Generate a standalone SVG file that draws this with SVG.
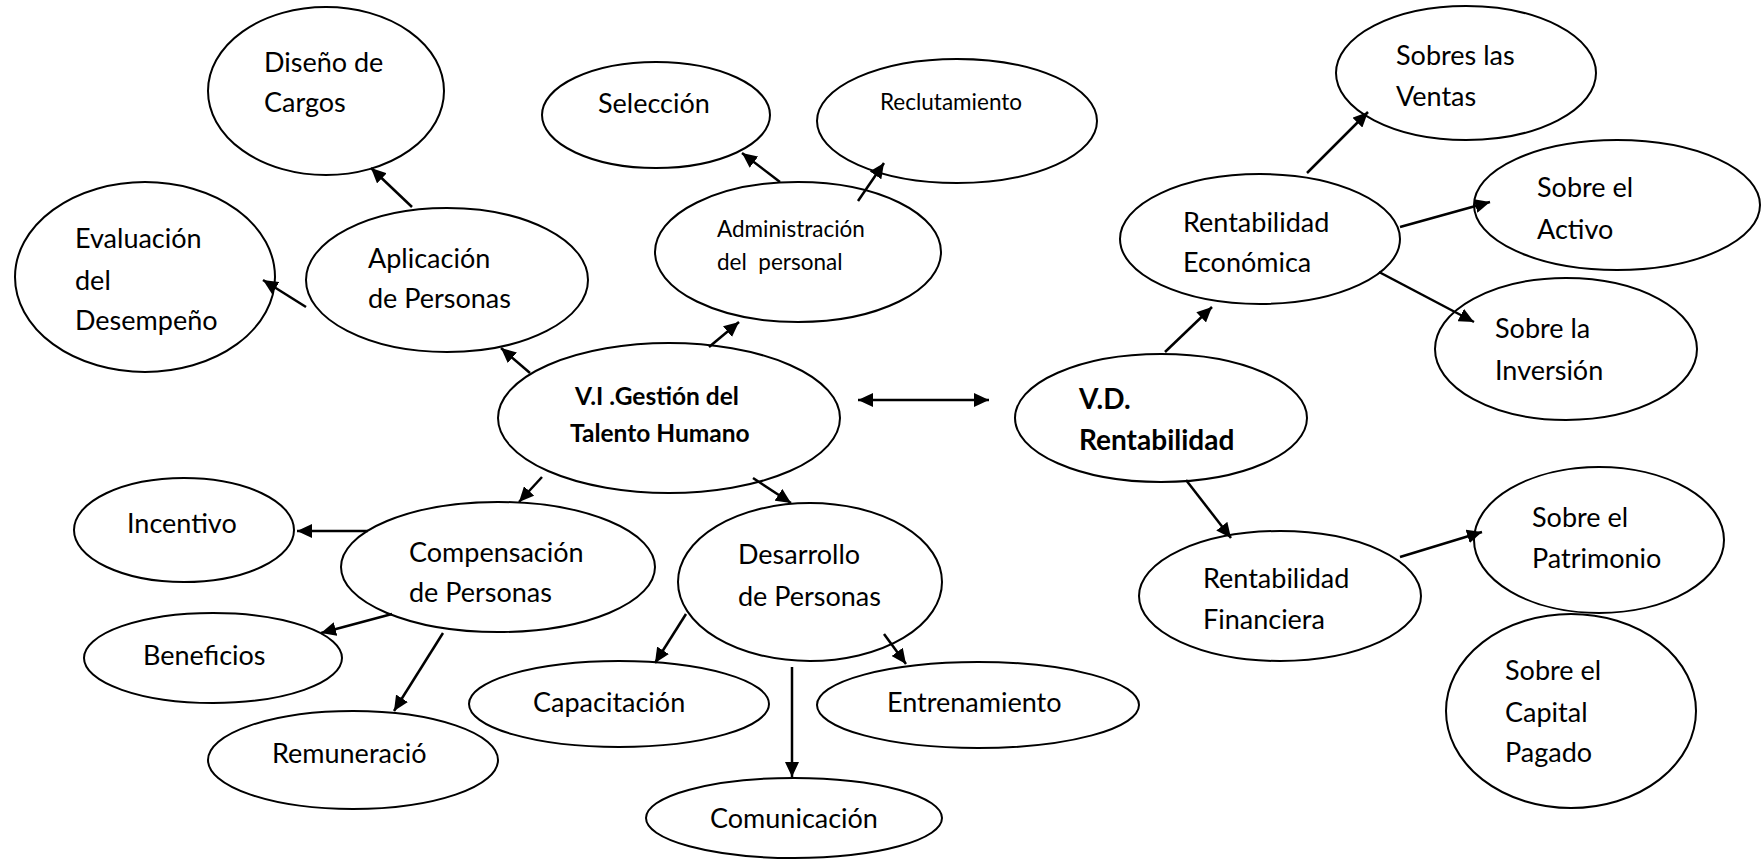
<svg xmlns="http://www.w3.org/2000/svg" width="1762" height="860" viewBox="0 0 1762 860">
<style>
.n ellipse{fill:#fff;stroke:#000;stroke-width:2}
text{font-family:Lato,"Open Sans","Liberation Sans",sans-serif;font-size:27px;fill:#000}
.s{font-size:22.5px}
.b{font-weight:bold;font-size:24.5px}
.bb{font-weight:bold;font-size:28px}
#connectors line{stroke:#000;stroke-width:2.5;marker-end:url(#ah)}
</style>
<defs>
<marker id="ah" markerWidth="16" markerHeight="14" refX="15" refY="7" orient="auto-start-reverse" markerUnits="userSpaceOnUse"><path d="M0,0 L15,7 L0,14 z" fill="#000"/></marker>
</defs>
<rect width="1762" height="860" fill="#fff"/>
<g id="diseno" class="n"><ellipse cx="326" cy="91" rx="118" ry="84"/><text x="264" y="72">Diseño de</text><text x="264" y="112">Cargos</text></g>
<g id="evaluacion" class="n"><ellipse cx="145" cy="277" rx="130" ry="95"/><text x="75" y="248">Evaluación</text><text x="75" y="290">del</text><text x="75" y="330">Desempeño</text></g>
<g id="aplicacion" class="n"><ellipse cx="447" cy="280" rx="141" ry="72"/><text x="368" y="268">Aplicación</text><text x="368" y="308">de Personas</text></g>
<g id="seleccion" class="n"><ellipse cx="656" cy="115" rx="114" ry="53"/><text x="598" y="113">Selección</text></g>
<g id="reclutamiento" class="n"><ellipse cx="957" cy="121" rx="140" ry="62"/><text class="s" x="880" y="110">Reclutamiento</text></g>
<g id="administracion" class="n"><ellipse cx="798" cy="252" rx="143" ry="70"/><text class="s" x="717" y="237">Administración</text><text class="s" x="717" y="270" xml:space="preserve">del  personal</text></g>
<g id="vi" class="n"><ellipse cx="669" cy="418" rx="171" ry="75"/><text class="b" x="575" y="405">V.I .Gestión del</text><text class="b" x="570" y="442">Talento Humano</text></g>
<g id="vd" class="n"><ellipse cx="1161" cy="418" rx="146" ry="64"/><text class="bb" x="1079" y="409">V.D.</text><text class="bb" x="1079" y="450">Rentabilidad</text></g>
<g id="rent_econ" class="n"><ellipse cx="1260" cy="239" rx="140" ry="65"/><text x="1183" y="232">Rentabilidad</text><text x="1183" y="272">Económica</text></g>
<g id="ventas" class="n"><ellipse cx="1466" cy="73" rx="130" ry="67"/><text x="1396" y="65">Sobres las</text><text x="1396" y="106">Ventas</text></g>
<g id="activo" class="n"><ellipse cx="1617" cy="205" rx="143" ry="65"/><text x="1537" y="197">Sobre el</text><text x="1537" y="239">Activo</text></g>
<g id="inversion" class="n"><ellipse cx="1566" cy="349" rx="131" ry="71"/><text x="1495" y="338">Sobre la</text><text x="1495" y="380">Inversión</text></g>
<g id="rent_fin" class="n"><ellipse cx="1280" cy="596" rx="141" ry="65"/><text x="1203" y="588">Rentabilidad</text><text x="1203" y="629">Financiera</text></g>
<g id="patrimonio" class="n"><ellipse cx="1599" cy="540" rx="125" ry="73"/><text x="1532" y="527">Sobre el</text><text x="1532" y="568">Patrimonio</text></g>
<g id="capital" class="n"><ellipse cx="1571" cy="711" rx="125" ry="97"/><text x="1505" y="680">Sobre el</text><text x="1505" y="722">Capital</text><text x="1505" y="762">Pagado</text></g>
<g id="incentivo" class="n"><ellipse cx="184" cy="530" rx="110" ry="52"/><text x="127" y="533">Incentivo</text></g>
<g id="compensacion" class="n"><ellipse cx="498" cy="567" rx="157" ry="65"/><text x="409" y="562">Compensación</text><text x="409" y="602">de Personas</text></g>
<g id="beneficios" class="n"><ellipse cx="213" cy="658" rx="129" ry="45"/><text x="143" y="665">Beneficios</text></g>
<g id="remuneracion" class="n"><ellipse cx="353" cy="760" rx="145" ry="49"/><text x="272" y="763">Remuneració</text></g>
<g id="capacitacion" class="n"><ellipse cx="619" cy="704" rx="150" ry="43"/><text x="533" y="712">Capacitación</text></g>
<g id="desarrollo" class="n"><ellipse cx="810" cy="582" rx="132" ry="79"/><text x="738" y="564">Desarrollo</text><text x="738" y="606">de Personas</text></g>
<g id="entrenamiento" class="n"><ellipse cx="978" cy="705" rx="161" ry="43"/><text x="887" y="712">Entrenamiento</text></g>
<g id="comunicacion" class="n"><ellipse cx="794" cy="818" rx="148" ry="40"/><text x="710" y="828">Comunicación</text></g>
<g id="connectors">
<line x1="412" y1="207" x2="371" y2="168"/>
<line x1="306" y1="307" x2="263" y2="280"/>
<line x1="530" y1="373" x2="501" y2="348"/>
<line x1="780" y1="182" x2="742" y2="153"/>
<line x1="858" y1="201" x2="884" y2="163"/>
<line x1="709" y1="347" x2="739" y2="322"/>
<line x1="858" y1="400" x2="989" y2="400" style="marker-start:url(#ah)"/>
<line x1="542" y1="477" x2="519" y2="502"/>
<line x1="753" y1="478" x2="791" y2="503"/>
<line x1="1307" y1="173" x2="1368" y2="112"/>
<line x1="1400" y1="227" x2="1490" y2="202"/>
<line x1="1379" y1="272" x2="1474" y2="322"/>
<line x1="1165" y1="352" x2="1212" y2="307"/>
<line x1="1186" y1="480" x2="1231" y2="538"/>
<line x1="1400" y1="557" x2="1482" y2="532"/>
<line x1="368" y1="531" x2="297" y2="531"/>
<line x1="392" y1="614" x2="321" y2="633"/>
<line x1="443" y1="633" x2="394" y2="711"/>
<line x1="686" y1="614" x2="655" y2="663"/>
<line x1="792" y1="667" x2="792" y2="777"/>
<line x1="884" y1="634" x2="906" y2="664"/>
</g>
</svg>
